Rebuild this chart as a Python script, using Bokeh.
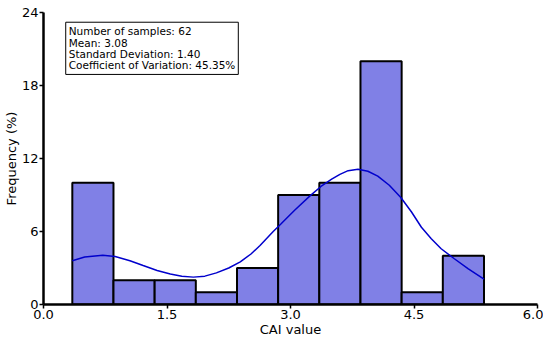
from bokeh.plotting import figure
from bokeh.models import Label, FixedTicker, Range1d
from bokeh.embed import file_html
from bokeh.resources import INLINE

# Histogram data (counts per bin)
bin_left = [0.35, 0.85, 1.35, 1.85, 2.35, 2.85, 3.35, 3.85, 4.35, 4.85]
bin_right = [0.85, 1.35, 1.85, 2.35, 2.85, 3.35, 3.85, 4.35, 4.85, 5.35]
counts = [10, 2, 2, 1, 3, 9, 10, 20, 1, 4]

# KDE curve
kde_x = [0.35, 0.5, 0.72, 0.87, 1.05, 1.21, 1.38, 1.54, 1.68, 1.82, 1.96, 2.1,
         2.25, 2.39, 2.52, 2.63, 2.79, 2.88, 3.05, 3.24, 3.37, 3.5, 3.6, 3.7,
         3.82, 3.94, 4.06, 4.2, 4.34, 4.47, 4.59, 4.71, 4.83, 4.99, 5.16, 5.35]
kde_y = [3.6, 3.9, 4.05, 3.95, 3.6, 3.2, 2.8, 2.5, 2.33, 2.25, 2.33, 2.6,
         3.0, 3.5, 4.15, 4.85, 6.0, 6.6, 7.75, 8.95, 9.7, 10.3, 10.7, 11.0,
         11.12, 10.95, 10.55, 9.8, 8.8, 7.6, 6.35, 5.4, 4.58, 3.76, 2.93, 2.08]

x_ticks = [0.0, 1.5, 3.0, 4.5, 6.0]
y_ticks = [0, 6, 12, 18, 24]

stats_text = ("Number of samples: 62\nMean: 3.08\n"
              "Standard Deviation: 1.40\nCoefficient of Variation: 45.35%")

FONT = "DejaVu Sans"

p = figure(width=543, height=339, output_backend="svg", toolbar_location=None,
           x_range=Range1d(0, 6), y_range=Range1d(0, 24),
           min_border_left=10, min_border_right=6, min_border_top=12, min_border_bottom=10)
p.outline_line_color = None
p.grid.visible = False
p.background_fill_color = "white"
p.border_fill_color = "white"

p.quad(left=bin_left, right=bin_right, bottom=0, top=counts,
       fill_color="#8080e6", line_color="black", line_width=2)
p.line(kde_x, kde_y, line_color="#0000cc", line_width=1.5)

for ax in (p.xaxis[0], p.yaxis[0]):
    ax.axis_line_width = 2.5
    ax.axis_line_color = "black"
    ax.major_tick_line_width = 1.5
    ax.major_tick_out = 4
    ax.major_tick_in = 0
    ax.minor_tick_line_color = None
    ax.major_label_text_font = FONT
    ax.major_label_text_font_size = "13px"
    ax.major_label_text_color = "black"
    ax.axis_label_text_font = FONT
    ax.axis_label_text_font_size = "13px"
    ax.axis_label_text_font_style = "normal"
    ax.axis_label_text_color = "black"
    ax.major_label_standoff = 1
    ax.axis_label_standoff = 0

p.xaxis.ticker = FixedTicker(ticks=x_ticks)
p.yaxis.ticker = FixedTicker(ticks=y_ticks)
p.xaxis.major_label_overrides = {t: f"{t:.1f}" for t in x_ticks}
p.xaxis.axis_label = "CAI value"
p.yaxis.axis_label = "Frequency (%)"

lab = Label(x=0.27, y=23.2, text=stats_text, anchor="top_left",
            text_font=FONT, text_font_size="10.5px", text_color="black",
            text_line_height=0.95, padding=3,
            border_line_color="black", border_line_width=1,
            background_fill_color="white")
p.add_layout(lab)

open("out.html", "w").write(file_html(p, INLINE))
